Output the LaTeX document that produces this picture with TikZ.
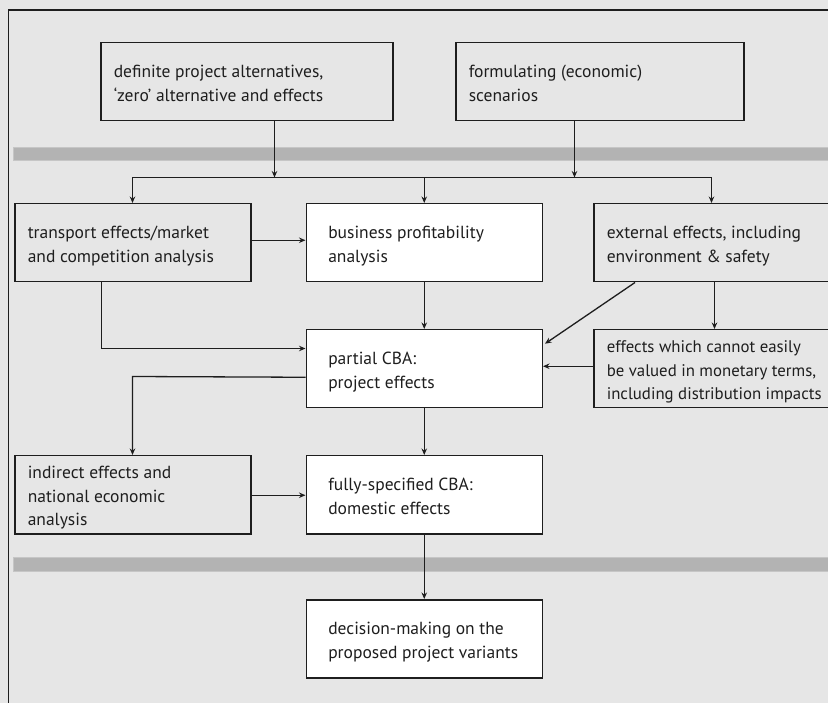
\documentclass[tikz,border=0pt]{standalone}
\usepackage{fontspec}
\setmainfont{PT Sans}
\usetikzlibrary{arrows.meta}
\definecolor{panel}{HTML}{E6E6E6}
\definecolor{band}{HTML}{B3B3B3}
\definecolor{bandedge}{HTML}{C6C6C6}
\definecolor{ink}{HTML}{1E1E1E}
% left-set block of explicit lines in a field of fixed width, set a little low
\newcommand{\celltext}[2]{\raisebox{-3pt}[\height][\depth]{\makebox[#1][l]{\begin{tabular}{@{}l@{}}#2\end{tabular}}}}
\begin{document}
\begin{tikzpicture}[x=1pt,y=-1pt,
  box/.style={draw=ink,line width=1.5pt,rectangle,anchor=north west,
    minimum height=78pt,inner ysep=0pt,
    font=\fontsize{17.5}{23.5}\selectfont,text=ink},
  graybox/.style={box,fill=panel,inner xsep=13pt},
  whitebox/.style={box,fill=white,inner xsep=22pt},
  arr/.style={draw=ink,line width=1.3pt,-{Stealth[length=6.5pt,width=5.5pt]}},
  link/.style={draw=ink,line width=1.3pt}]
\useasboundingbox (0,0) rectangle (828,703);
\clip (0,0) rectangle (828,703);
\fill[panel] (0,0) rectangle (828,703);
% outer frame, open to the right and below
\draw[ink,line width=1.4pt] (8.5,710) -- (8.5,10) -- (840,10);
% horizontal phase bands
\draw[fill=band,draw=bandedge,line width=0.8pt] (13,147) rectangle (840,160);
\draw[fill=band,draw=bandedge,line width=0.8pt] (13,557) rectangle (840,571);

% boxes
\node[graybox] (alt) at (100,42) {\celltext{266pt}{definite project alternatives,\\ ‘zero’ alternative and effects}};
\node[graybox] (scen) at (455,42) {\celltext{262pt}{formulating (economic)\\ scenarios}};
\node[graybox] (trans) at (14,203) {\celltext{210pt}{transport effects/market\\ and competition analysis}};
\node[whitebox] (bus) at (305.5,203) {\celltext{192pt}{business profitability\\ analysis}};
\node[graybox] (ext) at (593,203) {\celltext{224pt}{external effects, including\\ environment \& safety}};
\node[whitebox] (part) at (305.5,329) {\celltext{192pt}{partial CBA:\\ project effects}};
\node[graybox,font=\fontsize{16.8}{23.5}\selectfont] (nonmon) at (593,329) {\celltext{218pt}{effects which cannot easily\\ be valued in monetary terms,\\ including distribution impacts}};
\node[graybox] (ind) at (14,455) {\celltext{210pt}{indirect effects and\\ national economic\\ analysis}};
\node[whitebox] (full) at (305.5,455) {\celltext{192pt}{fully-specified CBA:\\ domestic effects}};
\node[whitebox] (dec) at (305.5,599) {\celltext{192pt}{decision-making on the\\ proposed project variants}};

% junction points
\coordinate (jA) at (274.5,177.5);
\coordinate (jB) at (574.5,177.5);
\coordinate (jL) at (132.5,177.5);
\coordinate (jR) at (711.5,177.5);
\coordinate (tk) at (101.5,348.5);
\coordinate (ed) at (635,281);
\coordinate (ev) at (714.5,300);
\coordinate (pk) at (132.5,376.5);

% connectors
\draw[arr] (alt.south -| jA) -- (jA);
\draw[arr] (scen.south -| jB) -- (jB);
\draw[link] (jL) -- (jR);
\draw[arr] (jL) -- (trans.north -| jL);
\draw[arr] (bus.north |- jL) -- (bus.north);
\draw[arr] (jR) -- (ext.north -| jR);
\draw[arr] ([yshift=2.5pt]trans.east) -- ([yshift=2.5pt]bus.west);
\draw[arr] (trans.south -| tk) -- (tk) -- (part.west |- tk);
\draw[arr] (bus.south) -- (part.north);
\draw[arr] (ext.south -| ed) -- ([xshift=2pt,yshift=25pt]part.east);
\draw[arr] (ext.south -| ev) -- (nonmon.north -| ev);
\draw[arr] ([yshift=2.5pt]nonmon.west) -- ([yshift=2.5pt]part.east);
\draw[arr] ([yshift=-8.5pt]part.west) -- (pk) -- (ind.north -| pk);
\draw[arr] (part.south) -- (full.north);
\draw[arr] ([yshift=-0.5pt]ind.east) -- ([yshift=-0.5pt]full.west);
\draw[arr] (full.south) -- (dec.north);
\end{tikzpicture}
\end{document}
